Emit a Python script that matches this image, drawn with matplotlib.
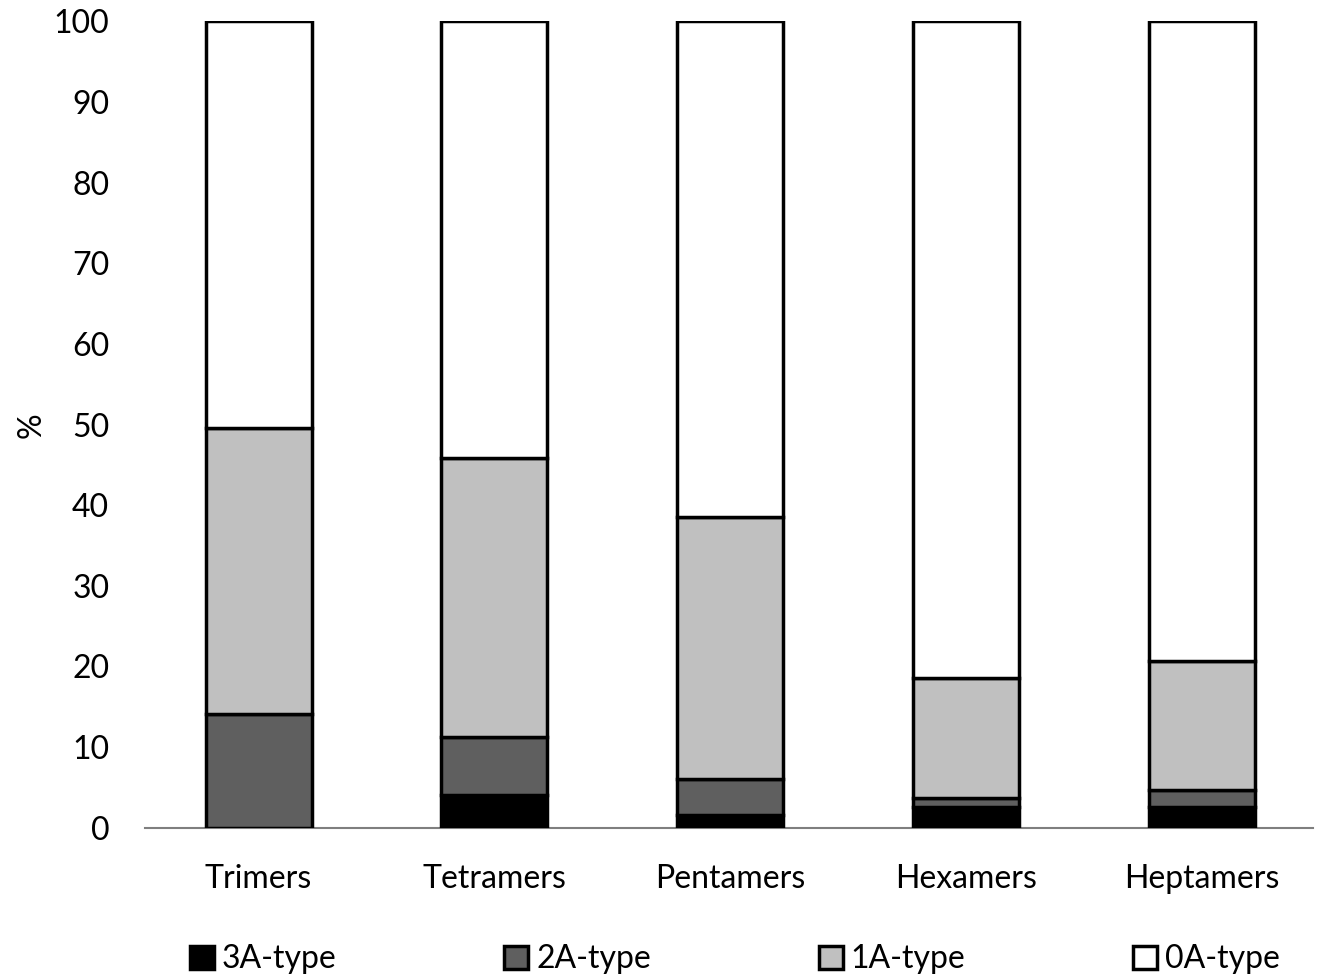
import numpy as np
import matplotlib.pyplot as plt

categories = ["Trimers", "Tetramers", "Pentamers", "Hexamers", "Heptamers"]
type_3a = [0.0, 4.0, 1.5, 2.5, 2.5]
type_2a = [14.1, 7.2, 4.5, 1.2, 2.1]
type_1a = [35.5, 34.6, 32.5, 14.8, 16.1]
type_0a = [100 - a - b - c for a, b, c in zip(type_3a, type_2a, type_1a)]

series = [
    ("3A-type", type_3a, "#000000"),
    ("2A-type", type_2a, "#5f5f5f"),
    ("1A-type", type_1a, "#c0c0c0"),
    ("0A-type", type_0a, "#ffffff"),
]

plt.rcParams["font.family"] = ["Lato", "DejaVu Sans"]

fig = plt.figure(figsize=(13.22, 9.77), dpi=100)
ax = fig.add_axes([0.110, 0.153, 0.883, 0.825])

x = np.arange(len(categories))
bottom = np.zeros(len(categories))
for name, vals, color in series:
    vals = np.array(vals)
    ax.bar(x, vals, width=0.45, bottom=bottom, color=color,
           edgecolor="black", linewidth=2.5, label=name, zorder=3)
    bottom += vals

ax.set_xlim(-0.48, 4.47)
ax.set_ylim(0, 100)
ax.set_yticks(np.arange(0, 101, 10))
ax.set_xticks(x)
ax.set_xticklabels(categories)
ax.tick_params(axis="both", length=0, labelsize=23)
ax.tick_params(axis="x", pad=26)
ax.tick_params(axis="y", pad=26)

for side in ["top", "right", "left"]:
    ax.spines[side].set_visible(False)
ax.spines["bottom"].set_color("#7f7f7f")
ax.spines["bottom"].set_linewidth(1.5)

fig.text(0.024, 0.565, "%", fontsize=23, rotation=90, ha="center", va="center")

ax.legend(loc="lower center", bbox_to_anchor=(0.505, -0.218), ncol=4,
          frameon=False, fontsize=23, handlelength=0.75, handleheight=0.75,
          handletextpad=0.25, columnspacing=5.25)

fig.savefig("out.png", dpi=100)
